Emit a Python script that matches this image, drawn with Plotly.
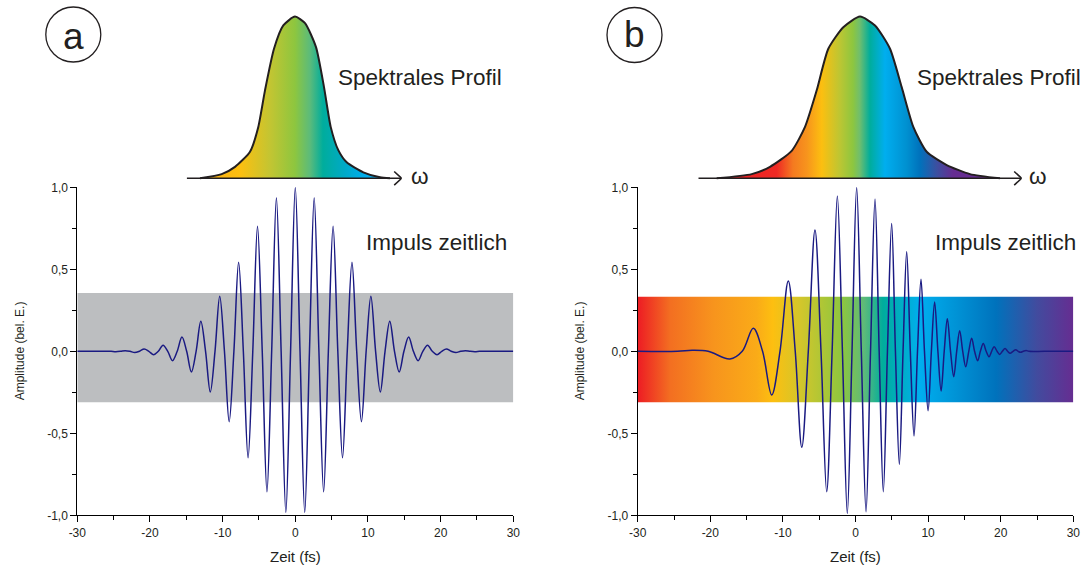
import plotly.graph_objects as go

W, H = 1081, 565

# ---------------- data ----------------
time_ticks = [-30, -20, -10, 0, 10, 20, 30]
time_tick_labels = ["-30", "-20", "-10", "0", "10", "20", "30"]
time_minor = [-25, -15, -5, 5, 15, 25]
amp_ticks = [-1.0, -0.5, 0.0, 0.5, 1.0]
amp_tick_labels = ["-1,0", "-0,5", "0,0", "0,5", "1,0"]
amp_minor = [-0.75, -0.25, 0.25, 0.75]

# panel a: unchirped pulse (extrema and zero crossings)
pulse_a_t = [-30.0, -27.3, -26.65, -26.0, -25.35, -24.7, -24.05, -23.4, -22.75, -22.1,
             -21.45, -20.8, -20.15, -19.5, -18.85, -18.2, -17.55, -16.9, -16.25, -15.6,
             -14.95, -14.3, -13.65, -13.0, -12.35, -11.7, -11.05, -10.4, -9.75, -9.1,
             -8.45, -7.8, -7.15, -6.5, -5.85, -5.2, -4.55, -3.9, -3.25, -2.6,
             -1.95, -1.3, -0.65, 0.0, 0.65, 1.3, 1.95, 2.6, 3.25, 3.9,
             4.55, 5.2, 5.85, 6.5, 7.15, 7.8, 8.45, 9.1, 9.75, 10.4,
             11.05, 11.7, 12.35, 13.0, 13.65, 14.3, 14.95, 15.6, 16.25, 16.9,
             17.55, 18.2, 18.85, 19.5, 20.15, 20.8, 21.45, 22.1, 22.75, 23.4,
             24.05, 24.7, 25.35, 26.0, 26.65, 27.3, 30.0]
pulse_a_v = [0.0, 0.0, 0.0, 0.001, 0.0, -0.002, 0.0, 0.004, 0.0, -0.008,
             0.0, 0.014, 0.0, -0.021, 0.0, 0.037, 0.0, -0.057, 0.0, 0.087,
             0.0, -0.126, 0.0, 0.183, 0.0, -0.248, 0.0, 0.335, 0.0, -0.429,
             0.0, 0.543, 0.0, -0.649, 0.0, 0.762, 0.0, -0.856, 0.0, 0.937,
             0.0, -0.982, 0.0, 1.0, 0.0, -0.982, 0.0, 0.937, 0.0, -0.856,
             0.0, 0.762, 0.0, -0.649, 0.0, 0.543, 0.0, -0.429, 0.0, 0.335,
             0.0, -0.248, 0.0, 0.183, 0.0, -0.126, 0.0, 0.087, 0.0, -0.057,
             0.0, 0.037, 0.0, -0.021, 0.0, 0.014, 0.0, -0.008, 0.0, 0.004,
             0.0, -0.002, 0.0, 0.001, 0.0, 0.0, 0.0]

# panel b: chirped pulse
pulse_b_t = [-30.0, -24.5, -22.5, -20.3, -17.3, -15.6, -14.08, -12.8, -11.54, -10.4,
             -9.26, -8.3, -7.4, -6.5, -5.58, -4.75, -3.97, -3.22, -2.5, -1.8,
             -1.13, -0.48, 0.16, 0.8, 1.45, 2.07, 2.69, 3.26, 3.83, 4.4,
             4.98, 5.5, 6.04, 6.55, 7.05, 7.55, 8.06, 8.54, 9.02, 9.5,
             10.0, 10.45, 10.9, 11.35, 11.79, 12.22, 12.65, 13.09, 13.53, 13.94,
             14.35, 14.77, 15.18, 15.6, 16.0, 16.4, 16.83, 17.2, 17.6, 18.0,
             18.39, 18.75, 19.1, 19.5, 19.86, 20.23, 20.6, 20.95, 21.3, 21.7,
             22.07, 22.4, 22.75, 23.1, 23.5, 23.9, 26.0, 30.0]
pulse_b_v = [0.0, 0.0, 0.006, 0.0, -0.047, 0.0, 0.140, 0.0, -0.266, 0.0,
             0.429, 0.0, -0.585, 0.0, 0.740, 0.0, -0.856, 0.0, 0.947, 0.0,
             -0.988, 0.0, 1.0, 0.0, -0.978, 0.0, 0.929, 0.0, -0.856, 0.0,
             0.780, 0.0, -0.689, 0.0, 0.607, 0.0, -0.516, 0.0, 0.439, 0.0,
             -0.362, 0.0, 0.300, 0.0, -0.242, 0.0, 0.199, 0.0, -0.155, 0.0,
             0.126, 0.0, -0.094, 0.0, 0.079, 0.0, -0.057, 0.0, 0.047, 0.0,
             -0.033, 0.0, 0.028, 0.0, -0.019, 0.0, 0.017, 0.0, -0.012, 0.0,
             0.010, 0.0, -0.006, 0.0, 0.005, 0.0, 0.0, 0.0]

# spectral profiles (omega in arbitrary units, amplitude normalised)
spec_a_w = [-9.5, -7.33, -6.0, -4.5, -3.67, -3.0, -2.1, -1.17, 0.0, 1.0,
            2.1, 2.9, 3.57, 4.33, 5.17, 6.83, 8.5, 9.5]
spec_a_v = [0.0, 0.026, 0.071, 0.164, 0.318, 0.544, 0.801, 0.945, 1.0, 0.959,
            0.811, 0.564, 0.318, 0.174, 0.099, 0.037, 0.006, 0.0]
spec_b_w = [-14.33, -10.83, -9.0, -6.83, -5.5, -4.33, -3.17, -1.67, 0.0, 1.5,
            3.0, 4.17, 5.33, 6.67, 8.67, 11.0, 14.0]
spec_b_v = [0.0, 0.026, 0.071, 0.17, 0.318, 0.544, 0.801, 0.934, 1.0, 0.945,
            0.801, 0.564, 0.318, 0.164, 0.082, 0.026, 0.0]

band_a = [-0.311, 0.355]   # bottom, top of grey band
band_b = [-0.311, 0.333]   # bottom, top of rainbow band

# ---------------- colours ----------------
PULSE = "#1a1a82"
INK = "#231f20"
FONT = "Liberation Sans, Arial, sans-serif"

band_b_scale = [[0.0, "#ed1c24"], [0.075, "#f36f21"], [0.174, "#f7941d"],
                [0.273, "#faab18"], [0.31, "#fdbf10"], [0.373, "#d3c62b"],
                [0.47, "#8dc63f"], [0.52, "#5dba7a"], [0.563, "#00ad9c"],
                [0.648, "#00aeef"], [0.73, "#0093d6"], [0.823, "#0072bc"],
                [0.917, "#424b9e"], [1.0, "#662d91"]]
spec_a_scale = [[0.0, "#f9ad17"], [0.21, "#fdbf10"], [0.368, "#c3c532"],
                [0.5, "#8dc63f"], [0.579, "#5bbb7b"], [0.647, "#00ad9c"],
                [0.763, "#00a9c8"], [0.868, "#00aeef"], [1.0, "#16a3e0"]]
spec_b_scale = [[0.0, "#ed1c24"], [0.212, "#ee2a24"], [0.269, "#f47a20"],
                [0.318, "#f7941d"], [0.371, "#fcbf10"], [0.435, "#bcc633"],
                [0.481, "#8dc63f"], [0.505, "#6fbe6e"], [0.541, "#00ad9c"],
                [0.594, "#00aeef"], [0.671, "#0090d0"], [0.717, "#0072bc"],
                [0.777, "#3c4fa0"], [0.834, "#662d91"], [1.0, "#662d91"]]


def X(p):
    """page pixel -> paper x"""
    return p / W


def Y(p):
    """page pixel -> paper y"""
    return 1 - p / H


def dom(a, b):
    return [max(0.0, min(1.0, a)), max(0.0, min(1.0, b))]


fig = go.Figure()

t0, t1 = time_ticks[0], time_ticks[-1]

# grey band (a)
fig.add_trace(go.Scatter(x=[t0, t1, t1, t0, t0],
                         y=[band_a[0], band_a[0], band_a[1], band_a[1], band_a[0]],
                         fill="toself", fillcolor="#bcbec0", mode="lines",
                         line=dict(width=0), xaxis="x", yaxis="y",
                         hoverinfo="skip", showlegend=False))
# rainbow band (b)
fig.add_trace(go.Scatter(x=[t0, t1, t1, t0, t0],
                         y=[band_b[0], band_b[0], band_b[1], band_b[1], band_b[0]],
                         fill="toself", mode="lines", line=dict(width=0),
                         fillgradient=dict(type="horizontal", colorscale=band_b_scale,
                                           start=t0, stop=t1),
                         xaxis="x2", yaxis="y2", hoverinfo="skip", showlegend=False))

# pulses
fig.add_trace(go.Scatter(x=pulse_a_t, y=pulse_a_v, mode="lines",
                         line=dict(color=PULSE, width=1.5, shape="spline", smoothing=1.0),
                         xaxis="x", yaxis="y", showlegend=False))
fig.add_trace(go.Scatter(x=pulse_b_t, y=pulse_b_v, mode="lines",
                         line=dict(color=PULSE, width=1.5, shape="spline", smoothing=1.0),
                         xaxis="x2", yaxis="y2", showlegend=False))

# spectral profiles
fig.add_trace(go.Scatter(x=spec_a_w, y=spec_a_v, mode="lines", fill="tozeroy",
                         line=dict(color=INK, width=2, shape="spline", smoothing=0.6),
                         fillgradient=dict(type="horizontal", colorscale=spec_a_scale,
                                           start=spec_a_w[0], stop=spec_a_w[-1]),
                         xaxis="x3", yaxis="y3", showlegend=False))
fig.add_trace(go.Scatter(x=spec_b_w, y=spec_b_v, mode="lines", fill="tozeroy",
                         line=dict(color=INK, width=2, shape="spline", smoothing=0.6),
                         fillgradient=dict(type="horizontal", colorscale=spec_b_scale,
                                           start=spec_b_w[0], stop=spec_b_w[-1]),
                         xaxis="x4", yaxis="y4", showlegend=False))

tickfont = dict(family=FONT, size=12, color=INK)


def main_x(domain, anchor):
    return dict(domain=domain, range=[t0, t1], anchor=anchor, showgrid=False,
                zeroline=False, showline=True, linecolor="black", linewidth=1,
                ticks="outside", ticklen=6, tickwidth=1, tickcolor="black",
                tickmode="array", tickvals=time_ticks, ticktext=time_tick_labels,
                tickfont=tickfont, automargin=False,
                minor=dict(tickmode="array", tickvals=time_minor, ticks="outside",
                           ticklen=4, tickwidth=1, tickcolor="black", showgrid=False),
                fixedrange=True)


def main_y(domain, anchor):
    return dict(domain=domain, range=[-1, 1], anchor=anchor, showgrid=False,
                zeroline=False, showline=True, linecolor="black", linewidth=1,
                ticks="outside", ticklen=6, tickwidth=1, tickcolor="black",
                tickmode="array", tickvals=amp_ticks, ticktext=amp_tick_labels,
                tickfont=tickfont, automargin=False,
                minor=dict(tickmode="array", tickvals=amp_minor, ticks="outside",
                           ticklen=4, tickwidth=1, tickcolor="black", showgrid=False),
                fixedrange=True)


ydom = dom(Y(515.3), Y(187.3))
spec_ydom = dom(Y(186.4), Y(8.5))
spec_a_range = [-10.83, 10.67]
spec_b_range = [-16.17, 16.17]

layout = dict(
    width=W, height=H, autosize=False,
    margin=dict(l=0, r=0, t=0, b=0),
    paper_bgcolor="white", plot_bgcolor="rgba(0,0,0,0)",
    xaxis=main_x(dom(X(77.3), X(513.3)), "y"),
    yaxis=main_y(ydom, "x"),
    xaxis2=main_x(dom(X(637.7), X(1073.3)), "y2"),
    yaxis2=main_y(ydom, "x2"),
    xaxis3=dict(domain=dom(X(186.7), X(401.7)), range=spec_a_range, anchor="y3",
                visible=False, fixedrange=True),
    yaxis3=dict(domain=spec_ydom, range=[-0.05, 1.05], anchor="x3",
                visible=False, fixedrange=True),
    xaxis4=dict(domain=dom(X(698.3), X(1021.7)), range=spec_b_range, anchor="y4",
                visible=False, fixedrange=True),
    yaxis4=dict(domain=spec_ydom, range=[-0.05, 1.05], anchor="x4",
                visible=False, fixedrange=True),
    hovermode=False,
)
fig.update_layout(**layout)

# omega axes with open arrow heads
shapes = []
for xr, yr, rng in (("x3", "y3", spec_a_range), ("x4", "y4", spec_b_range)):
    shapes.append(dict(type="line", xref=xr, yref=yr, x0=rng[0], x1=rng[1], y0=0, y1=0,
                       line=dict(color=INK, width=1.6)))
    tip = rng[1]
    shapes.append(dict(type="path", xref=xr, yref=yr,
                       path=f"M {tip - 0.75},0.042 L {tip},0 L {tip - 0.75},-0.042",
                       line=dict(color=INK, width=1.6)))

# panel circles
for cx, cy in ((73.3, 34.5), (634.5, 35.0)):
    r = 27.5
    shapes.append(dict(type="circle", xref="paper", yref="paper",
                       x0=X(cx - r), x1=X(cx + r), y0=Y(cy + r), y1=Y(cy - r),
                       line=dict(color=INK, width=1.3)))
fig.update_layout(shapes=shapes)

big = dict(family=FONT, size=22.5, color=INK)
ann = []
ann.append(dict(text="a", x=X(73.3), y=Y(36.0), xref="paper", yref="paper",
                showarrow=False, xanchor="center", yanchor="middle",
                font=dict(family=FONT, size=37, color=INK)))
ann.append(dict(text="b", x=X(634.5), y=Y(35.0), xref="paper", yref="paper",
                showarrow=False, xanchor="center", yanchor="middle",
                font=dict(family=FONT, size=37, color=INK)))
for x0, txt, yc in ((336, "Spektrales Profil", 78), (915, "Spektrales Profil", 78),
                    (364, "Impuls zeitlich", 242), (932.7, "Impuls zeitlich", 242)):
    ann.append(dict(text=txt, x=X(x0), y=Y(yc), xref="paper", yref="paper",
                    showarrow=False, xanchor="left", yanchor="middle", font=big))
for xc in (420, 1038):
    ann.append(dict(text="ω", x=X(xc), y=Y(176), xref="paper", yref="paper",
                    showarrow=False, xanchor="center", yanchor="middle", font=big))
for xc in (295.3, 855.5):
    ann.append(dict(text="Zeit (fs)", x=X(xc), y=Y(556), xref="paper", yref="paper",
                    showarrow=False, xanchor="center", yanchor="middle",
                    font=dict(family=FONT, size=15, color=INK)))
for xc in (20, 580):
    ann.append(dict(text="Amplitude (bel. E.)", x=X(xc), y=Y(351.3), xref="paper",
                    yref="paper", showarrow=False, xanchor="center", yanchor="middle",
                    textangle=-90, font=dict(family=FONT, size=12, color=INK)))
fig.update_layout(annotations=ann)

fig.write_html("out.html", config=dict(displayModeBar=False, staticPlot=True),
               post_script="document.body.style.margin='0';"
                           "document.documentElement.style.overflow='hidden';")
